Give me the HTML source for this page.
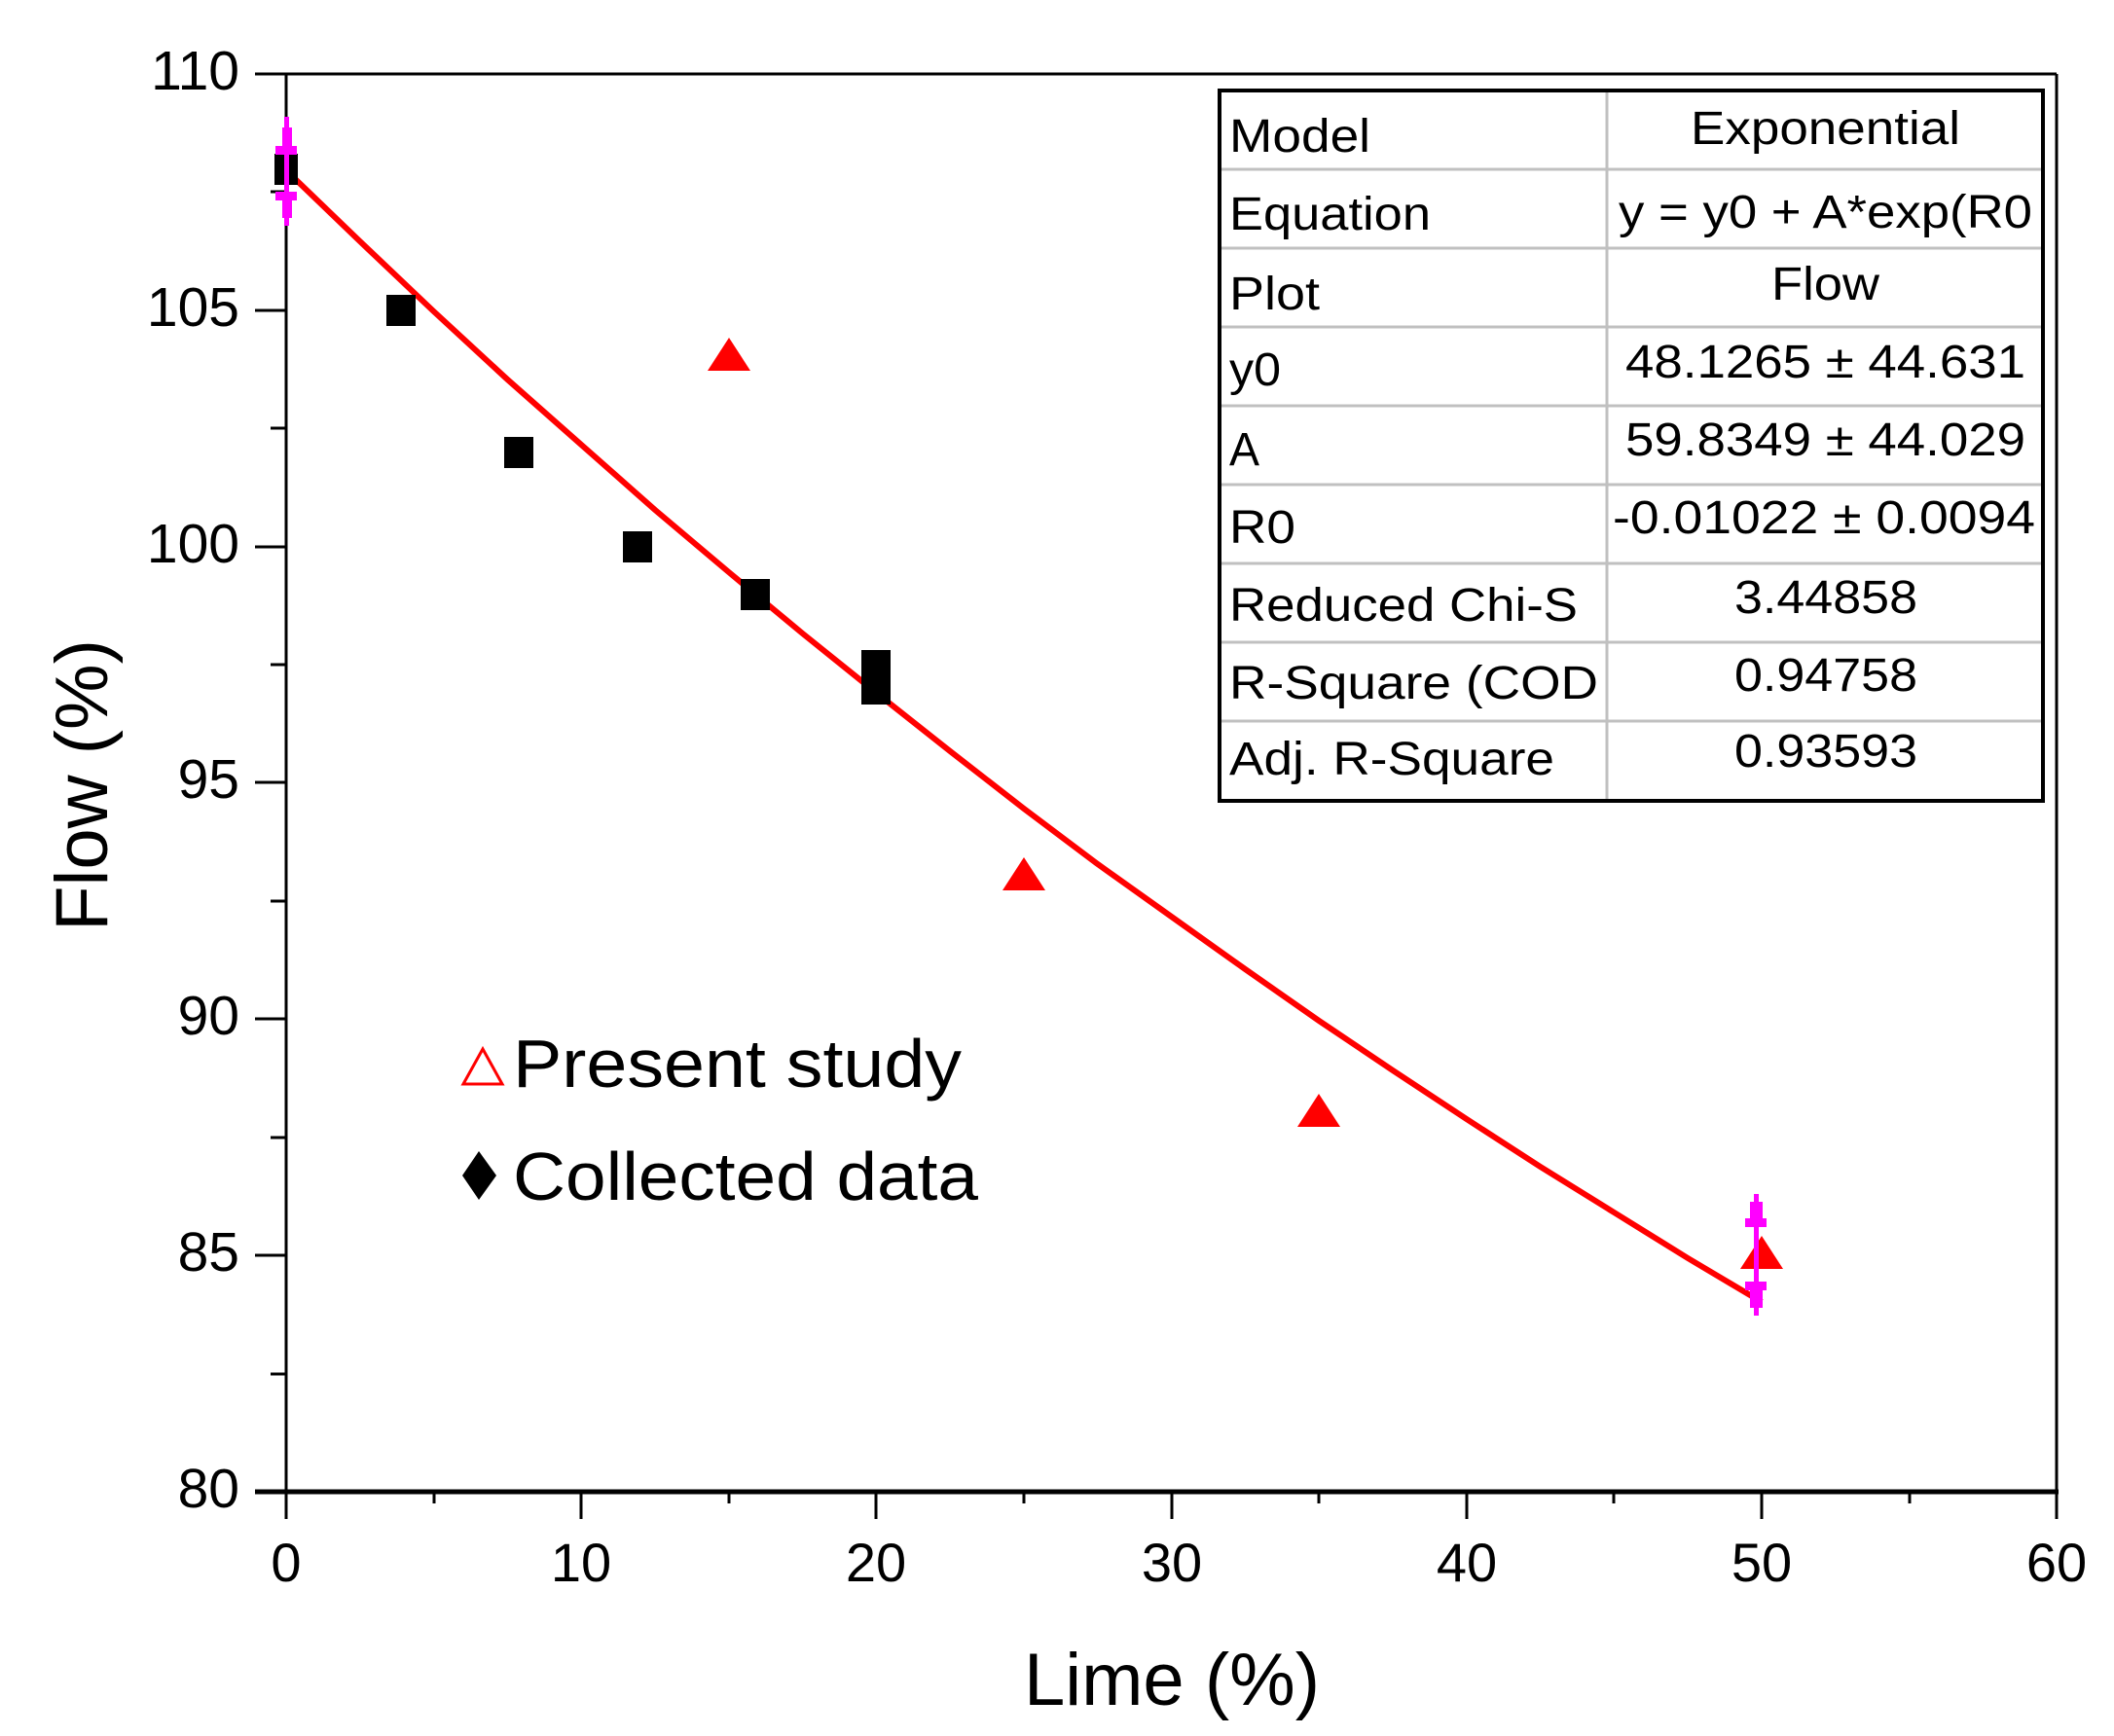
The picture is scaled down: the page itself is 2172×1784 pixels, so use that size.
<!DOCTYPE html>
<html><head><meta charset="utf-8"><style>html,body{margin:0;padding:0;background:#fff}svg{display:block}</style></head>
<body>
<svg width="2172" height="1784" viewBox="0 0 2172 1784" xmlns="http://www.w3.org/2000/svg" font-family="Liberation Sans, Arial, sans-serif">
<rect width="2172" height="1784" fill="#fff"/>
<line x1="294" y1="76" x2="2113" y2="76" stroke="#000" stroke-width="3"/>
<line x1="2113" y1="76" x2="2113" y2="1533" stroke="#000" stroke-width="3"/>
<line x1="294" y1="76" x2="294" y2="1533" stroke="#000" stroke-width="3"/>
<line x1="262" y1="1533" x2="2115" y2="1533" stroke="#000" stroke-width="5"/>
<g stroke="#000" stroke-width="3">
<line x1="262" y1="76" x2="294" y2="76"/>
<line x1="262" y1="319" x2="294" y2="319"/>
<line x1="262" y1="562" x2="294" y2="562"/>
<line x1="262" y1="804" x2="294" y2="804"/>
<line x1="262" y1="1047" x2="294" y2="1047"/>
<line x1="262" y1="1290" x2="294" y2="1290"/>
<line x1="278" y1="197" x2="294" y2="197"/>
<line x1="278" y1="440" x2="294" y2="440"/>
<line x1="278" y1="683" x2="294" y2="683"/>
<line x1="278" y1="926" x2="294" y2="926"/>
<line x1="278" y1="1169" x2="294" y2="1169"/>
<line x1="278" y1="1412" x2="294" y2="1412"/>
</g>
<g stroke="#000" stroke-width="3">
<line x1="294" y1="1533" x2="294" y2="1561"/>
<line x1="597" y1="1533" x2="597" y2="1561"/>
<line x1="900" y1="1533" x2="900" y2="1561"/>
<line x1="1204" y1="1533" x2="1204" y2="1561"/>
<line x1="1507" y1="1533" x2="1507" y2="1561"/>
<line x1="1810" y1="1533" x2="1810" y2="1561"/>
<line x1="2113" y1="1533" x2="2113" y2="1561"/>
<line x1="446" y1="1533" x2="446" y2="1545"/>
<line x1="749" y1="1533" x2="749" y2="1545"/>
<line x1="1052" y1="1533" x2="1052" y2="1545"/>
<line x1="1355" y1="1533" x2="1355" y2="1545"/>
<line x1="1658" y1="1533" x2="1658" y2="1545"/>
<line x1="1962" y1="1533" x2="1962" y2="1545"/>
</g>
<g font-size="57" text-anchor="end" fill="#000">
<text x="246" y="92">110</text>
<text x="246" y="335">105</text>
<text x="246" y="578">100</text>
<text x="246" y="820">95</text>
<text x="246" y="1063">90</text>
<text x="246" y="1306">85</text>
<text x="246" y="1549">80</text>
</g>
<g font-size="56" text-anchor="middle" fill="#000">
<text x="294" y="1625">0</text>
<text x="597" y="1625">10</text>
<text x="900" y="1625">20</text>
<text x="1204" y="1625">30</text>
<text x="1507" y="1625">40</text>
<text x="1810" y="1625">50</text>
<text x="2113" y="1625">60</text>
</g>
<text x="1204" y="1752" font-size="76" text-anchor="middle">Lime (%)</text>
<text transform="translate(110,807) rotate(-90)" font-size="76" text-anchor="middle">Flow (%)</text>
<polyline fill="none" stroke="#ff0000" stroke-width="6" points="294,175 369.8,248 445.6,320 521.4,390 597.2,457 673,524 748.8,588 824.6,651 900.4,712 976.2,772 1052,831 1127.8,888 1203.6,942 1279.4,996 1355.2,1049 1431,1100 1506.8,1150 1582.6,1199 1658.4,1246 1734.2,1293 1810,1338"/>
<g fill="#000">
<rect x="282" y="158" width="24" height="32"/>
<rect x="397" y="303" width="30" height="32"/>
<rect x="518" y="449" width="30" height="32"/>
<rect x="640" y="546" width="30" height="32"/>
<rect x="761" y="595" width="30" height="32"/>
<rect x="885" y="668" width="30" height="32"/>
<rect x="885" y="692" width="30" height="32"/>
</g>
<g fill="#ff0000">
<polygon points="749,347 727,381 771,381"/>
<polygon points="1052,881 1030,915 1074,915"/>
<polygon points="1355,1124 1333,1158 1377,1158"/>
<polygon points="1810,1270 1788,1304 1832,1304"/>
</g>
<g fill="#ff00ff">
<rect x="292" y="120" width="5" height="112"/>
<rect x="290" y="131" width="10" height="20"/><rect x="283" y="150" width="22" height="9"/>
<rect x="283" y="197" width="22" height="9"/><rect x="290" y="206" width="10" height="18"/>
<rect x="1802" y="1227" width="5" height="125"/>
<rect x="1798" y="1235" width="13" height="20"/><rect x="1793" y="1252" width="22" height="9"/>
<rect x="1793" y="1317" width="22" height="9"/><rect x="1798" y="1326" width="13" height="18"/>
</g>
<polygon points="496,1078 476,1114 516,1114" fill="none" stroke="#ff0000" stroke-width="3"/>
<text x="527" y="1117" font-size="70" textLength="461" lengthAdjust="spacingAndGlyphs">Present study</text>
<polygon points="492,1183 510,1208 492,1233 475,1208" fill="#000"/>
<text x="527" y="1233" font-size="70" textLength="478" lengthAdjust="spacingAndGlyphs">Collected data</text>
<rect x="1253" y="93" width="846" height="730" fill="#fff"/>
<g stroke="#c0c0c0" stroke-width="3">
<line x1="1253" y1="174" x2="2099" y2="174"/>
<line x1="1253" y1="255" x2="2099" y2="255"/>
<line x1="1253" y1="336" x2="2099" y2="336"/>
<line x1="1253" y1="417" x2="2099" y2="417"/>
<line x1="1253" y1="498" x2="2099" y2="498"/>
<line x1="1253" y1="579" x2="2099" y2="579"/>
<line x1="1253" y1="660" x2="2099" y2="660"/>
<line x1="1253" y1="741" x2="2099" y2="741"/>
<line x1="1651" y1="93" x2="1651" y2="823"/>
</g>
<rect x="1253" y="93" width="846" height="730" fill="none" stroke="#000" stroke-width="4"/>
<g font-size="48" fill="#000" lengthAdjust="spacingAndGlyphs">
<text x="1263" y="156" textLength="145" lengthAdjust="spacingAndGlyphs">Model</text>
<text x="1263" y="236" textLength="207" lengthAdjust="spacingAndGlyphs">Equation</text>
<text x="1263" y="318" textLength="93" lengthAdjust="spacingAndGlyphs">Plot</text>
<text x="1263" y="396" textLength="53" lengthAdjust="spacingAndGlyphs">y0</text>
<text x="1263" y="478" textLength="31" lengthAdjust="spacingAndGlyphs">A</text>
<text x="1263" y="558" textLength="68" lengthAdjust="spacingAndGlyphs">R0</text>
<text x="1263" y="638" textLength="358" lengthAdjust="spacingAndGlyphs">Reduced Chi-S</text>
<text x="1263" y="718" textLength="379" lengthAdjust="spacingAndGlyphs">R-Square (COD</text>
<text x="1263" y="796" textLength="334" lengthAdjust="spacingAndGlyphs">Adj. R-Square</text>
</g>
<g font-size="48" fill="#000">
<text x="1737" y="148" textLength="277" lengthAdjust="spacingAndGlyphs">Exponential</text>
<text x="1663" y="234" textLength="425" lengthAdjust="spacingAndGlyphs">y = y0 + A*exp(R0</text>
<text x="1820" y="308" textLength="111" lengthAdjust="spacingAndGlyphs">Flow</text>
<text x="1670" y="388" textLength="411" lengthAdjust="spacingAndGlyphs">48.1265 ± 44.631</text>
<text x="1670" y="468" textLength="411" lengthAdjust="spacingAndGlyphs">59.8349 ± 44.029</text>
<text x="1657" y="548" textLength="434" lengthAdjust="spacingAndGlyphs">-0.01022 ± 0.0094</text>
<text x="1782" y="630" textLength="188" lengthAdjust="spacingAndGlyphs">3.44858</text>
<text x="1782" y="710" textLength="188" lengthAdjust="spacingAndGlyphs">0.94758</text>
<text x="1782" y="788" textLength="188" lengthAdjust="spacingAndGlyphs">0.93593</text>
</g>
</svg>
</body></html>
